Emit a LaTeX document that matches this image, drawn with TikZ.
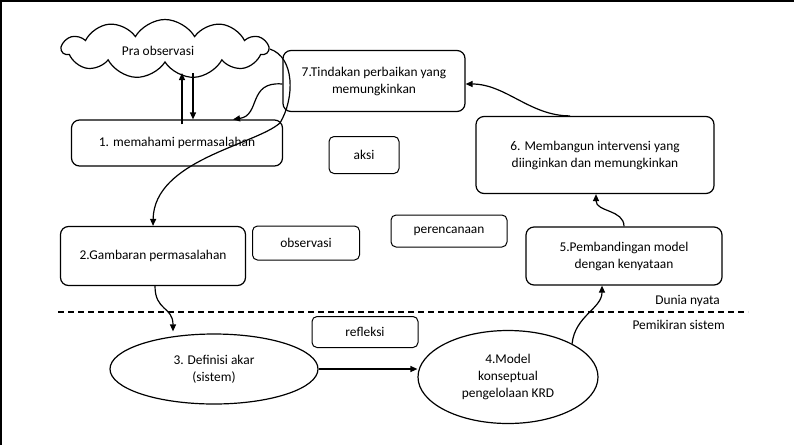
\documentclass[tikz,border=0pt]{standalone}
\usepackage{fontspec}
\setmainfont{Carlito}
\usetikzlibrary{shapes.geometric,shapes.symbols,arrows.meta}
\begin{document}
\begin{tikzpicture}[x=1pt,y=-1pt,
  every node/.style={font=\fontsize{13.4}{17}\selectfont, align=center, inner sep=0pt},
  bx/.style={draw, line width=1.2pt, rounded corners=8pt},
  tag/.style={draw, line width=1pt, rounded corners=5pt},
  ell/.style={draw, line width=1.2pt, ellipse},
  arr/.style={line width=1.2pt, -{Triangle[length=7pt,width=6pt]}},
  lbl/.style={anchor=east}]
  \useasboundingbox (0,0) rectangle (794,445);
  % frame edges
  \draw[line width=1.5pt] (1,445) -- (1,1) -- (794,1);

  % cloud
  \node[draw, line width=1.2pt, cloud, cloud puffs=11, cloud puff arc=120,
        cloud ignores aspect, minimum width=206pt, minimum height=59pt]
        (pra) at (165,49) {};
  \node (pratxt) at (158,51) {Pra observasi};

  % boxes
  \node[bx, minimum width=211pt, minimum height=46pt] (b1) at (177,143) {1. memahami permasalahan};
  \node[bx, minimum width=182pt, minimum height=61pt] (b7) at (374,81) {7.Tindakan perbaikan yang\\memungkinkan};
  \node[tag, minimum width=70pt, minimum height=37pt] (aksi) at (364,155) {aksi};
  \node[bx, minimum width=238pt, minimum height=77pt] (b6) at (595,155) {6. Membangun intervensi yang\\diinginkan dan memungkinkan};
  \node[tag, minimum width=116pt, minimum height=32pt] (ren) at (449,231) {perencanaan};
  \node[bx, minimum width=196pt, minimum height=58pt] (b5) at (624,256) {5.Pembandingan model\\dengan kenyataan};
  \node[bx, minimum width=185pt, minimum height=59pt] (b2) at (153,256) {2.Gambaran permasalahan};
  \node[tag, minimum width=107pt, minimum height=34pt] (obs) at (306,243) {observasi};
  \node[tag, minimum width=106pt, minimum height=31pt] (ref) at (365,332) {refleksi};

  % ellipses
  \node[ell, minimum width=208pt, minimum height=70pt] (e3) at (214,369) {3. Definisi akar\\(sistem)};
  \node[ell, minimum width=180pt, minimum height=93pt] (e4) at (508,377) {4.Model\\konseptual\\pengelolaan KRD};

  % boundary between real world and systems thinking
  \coordinate (dl) at (58,312);
  \coordinate (dr) at (748,312);
  \draw[line width=1.3pt, dash pattern=on 6pt off 4pt] (dl) -- (dr);
  \node[lbl] (dunia) at (720,301) {Dunia nyata};
  \node[lbl] (pemikiran) at (725,325) {Pemikiran sistem};

  % connectors
  \draw[arr] ([xshift=5pt,yshift=-5pt]b1.north) -- ([xshift=17pt,yshift=-24pt]pra.center);
  \draw[arr] ([xshift=28pt,yshift=-24pt]pra.center) -- ([xshift=16pt]b1.north);
  \draw[arr] ([yshift=-3pt]b7.west) .. controls +(-35,-3) and +(28,-4) .. ([xshift=56pt]b1.north);
  \draw[arr] (pra.east) .. controls +(25,8) and +(15,-25) .. (280,123)
                        .. controls (255,145) and (154,160) .. (b2.north);
  \draw[arr] ([xshift=-25pt]b6.north) .. controls +(-40,0) and +(40,0) .. ([yshift=-3pt]b7.east);
  \draw[arr] (b5.north) .. controls +(0,-17) and +(0,18) .. ([xshift=1pt]b6.south);
  \draw[arr] ([xshift=2pt]b2.south) .. controls +(0,25) and +(0,-25) .. ([xshift=-41pt,yshift=2pt]e3.north);
  \draw[arr] (e3.east) -- (e3.east -| e4.west);
  \draw[arr] (e4.north east) .. controls +(3,-28) and +(0,23) .. ([xshift=-22pt]b5.south);
\end{tikzpicture}
\end{document}
